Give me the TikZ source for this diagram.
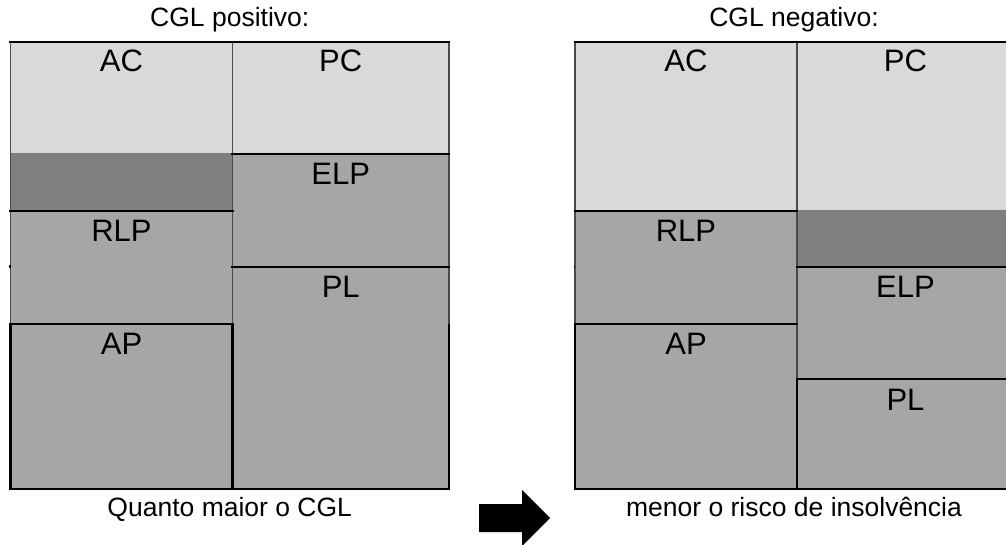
\documentclass[tikz,border=0pt]{standalone}
\usepackage{fontspec}
\setmainfont{Liberation Sans}
\definecolor{light}{HTML}{D9D9D9}
\definecolor{mid}{HTML}{A6A6A6}
\definecolor{deep}{HTML}{7F7F7F}
\definecolor{edge}{HTML}{4A4A4A}
\tikzset{
  boxlabel/.style={anchor=base,inner sep=0pt,font=\fontsize{31}{36}\selectfont},
  caption/.style={anchor=base,inner sep=0pt,font=\fontsize{26.5}{30}\selectfont},
  hline/.style={line width=2.8pt,black,line cap=rect},
  gline/.style={line width=1.6pt,edge},
  bline/.style={line width=2.8pt,black},
}
\begin{document}
\begin{tikzpicture}[x=1pt,y=-1pt]
\useasboundingbox (0,0) rectangle (1006,545);
\clip (0,0) rectangle (1006,545);

% ---- positive working capital ----
\fill[light] (10.5,42) rectangle (232.5,153);
\fill[deep]  (10.5,153) rectangle (232.5,211);
\fill[mid]   (10.5,211) rectangle (232.5,489);
\fill[light] (232.5,42) rectangle (449,154);
\fill[mid]   (232.5,154) rectangle (449,489);

\draw[gline] (10.5,42) -- (10.5,324);
\draw[gline] (232.5,42) -- (232.5,324);
\draw[gline] (449,42) -- (449,324);
\draw[bline] (10.5,324) -- (10.5,489);
\draw[bline] (232.5,324) -- (232.5,489);
\draw[bline] (449,324) -- (449,489);

\draw[hline] (10.5,42) -- (449,42);
\draw[hline] (10.5,211) -- (232.5,211);
\draw[hline] (10.5,324) -- (232.5,324);
\draw[hline] (232.5,154) -- (449,154);
\draw[hline] (232.5,267) -- (449,267);
\draw[hline] (10.5,489) -- (449,489);
\draw[bline] (9,266.5) -- (10.5,266.5);

\node[caption] (tpos) at (229.75,27) {CGL positivo:};
\node[boxlabel] (acL)  at (121.5,71.5)  {AC};
\node[boxlabel] (rlpL) at (121.5,241.5) {RLP};
\node[boxlabel] (apL)  at (121.5,354.5) {AP};
\node[boxlabel] (pcL)  at (340.75,71.5)  {PC};
\node[boxlabel] (elpL) at (340.75,184.5) {ELP};
\node[boxlabel] (plL)  at (340.75,297.5) {PL};
\node[caption] (bpos) at (229.75,516) {Quanto maior o CGL};

% ---- negative working capital ----
\fill[light] (575,42) rectangle (797,211);
\fill[mid]   (575,211) rectangle (797,489);
\fill[light] (797,42) rectangle (1014,210);
\fill[deep]  (797,210) rectangle (1014,267);
\fill[mid]   (797,267) rectangle (1014,489);

\draw[gline] (575,42) -- (575,324);
\draw[gline] (797,42) -- (797,380);
\draw[bline] (575,324) -- (575,489);
\draw[bline] (797,380) -- (797,489);

\draw[hline] (575,42) -- (1014,42);
\draw[hline] (575,211) -- (797,211);
\draw[hline] (575,324) -- (797,324);
\draw[hline] (797,267) -- (1014,267);
\draw[hline] (797,379) -- (1014,379);
\draw[hline] (575,489) -- (1014,489);
\draw[bline] (573.5,267) -- (575,267);

\node[caption] (tneg) at (794,27) {CGL negativo:};
\node[boxlabel] (acR)  at (686,71.5)  {AC};
\node[boxlabel] (rlpR) at (686,241.5) {RLP};
\node[boxlabel] (apR)  at (686,354.5) {AP};
\node[boxlabel] (pcR)  at (905.5,71.5)  {PC};
\node[boxlabel] (elpR) at (905.5,297.5) {ELP};
\node[boxlabel] (plR)  at (905.5,410.5) {PL};
\node[caption] (bneg) at (794,516) {menor o risco de insolvência};

% ---- block arrow ----
\fill[black] (479,504) -- (522,504) -- (522,490) -- (550,518) -- (522,546)
  -- (522,532) -- (479,532) -- cycle;
\end{tikzpicture}
\end{document}
